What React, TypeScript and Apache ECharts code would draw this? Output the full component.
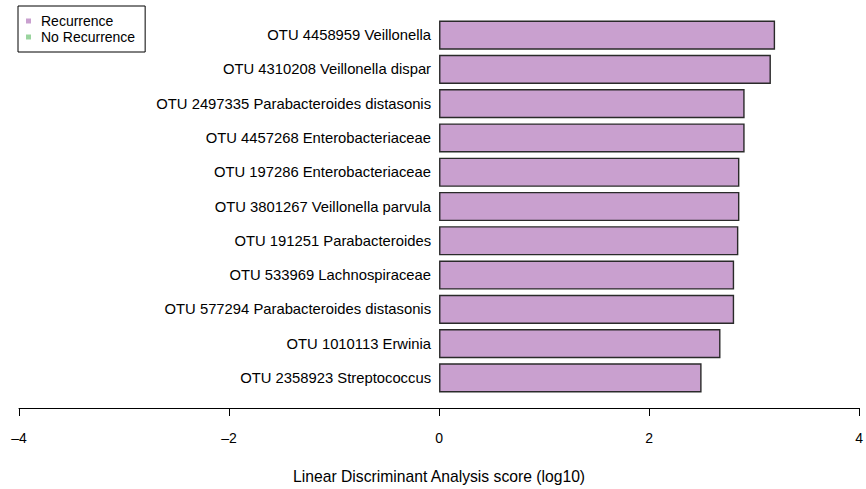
import React, { useEffect, useRef } from "react";
import * as echarts from "echarts";

const categories = [
  "OTU 4458959 Veillonella",
  "OTU 4310208 Veillonella dispar",
  "OTU 2497335 Parabacteroides distasonis",
  "OTU 4457268 Enterobacteriaceae",
  "OTU 197286 Enterobacteriaceae",
  "OTU 3801267 Veillonella parvula",
  "OTU 191251 Parabacteroides",
  "OTU 533969 Lachnospiraceae",
  "OTU 577294 Parabacteroides distasonis",
  "OTU 1010113 Erwinia",
  "OTU 2358923 Streptococcus",
];
const recurrence = [3.2, 3.16, 2.91, 2.91, 2.86, 2.86, 2.85, 2.81, 2.81, 2.68, 2.5];
const noRecurrence: number[] = [];
const seriesNames = ["Recurrence", "No Recurrence"];
const xTicks = [-4, -2, 0, 2, 4];

export default function App() {
  const ref = useRef<HTMLDivElement>(null);
  useEffect(() => {
    if (!ref.current) return;
    const chart = echarts.init(ref.current, undefined, { renderer: "svg" });
    const font = "'Liberation Sans', Arial, Helvetica, sans-serif";
    chart.setOption({
      animation: false,
      textStyle: { fontFamily: font },
      legend: {
        orient: "vertical",
        left: 18,
        top: 6,
        data: seriesNames.map((n) => ({ name: n, icon: "rect" })),
        itemWidth: 5,
        itemHeight: 5,
        itemGap: 2,
        padding: [8, 10, 8, 8],
        borderColor: "#000",
        borderWidth: 1,
        backgroundColor: "#fff",
        itemStyle: { borderWidth: 0 },
        textStyle: { fontSize: 14, color: "#000", fontFamily: font, padding: [0, 0, 0, 5] },
        z: 10,
      },
      grid: { left: 19, right: 5, top: 18, bottom: 94 },
      xAxis: {
        type: "value",
        min: xTicks[0],
        max: xTicks[xTicks.length - 1],
        interval: 2,
        offset: 13,
        splitLine: { show: false },
        axisLine: { show: true, lineStyle: { color: "#000", width: 1 } },
        axisTick: { show: true, length: 8, lineStyle: { color: "#000" } },
        axisLabel: {
          margin: 23,
          fontSize: 14,
          color: "#000",
          fontFamily: font,
          formatter: (v: number) => (v < 0 ? "\u2013" + Math.abs(v) : String(v)),
        },
        name: "Linear Discriminant Analysis score (log10)",
        nameLocation: "middle",
        nameGap: 60,
        nameTextStyle: { fontSize: 15.7, color: "#000", fontFamily: font },
      },
      yAxis: {
        type: "category",
        data: categories,
        inverse: true,
        axisLine: { show: false },
        axisTick: { show: false },
        axisLabel: { show: false },
        splitLine: { show: false },
      },
      series: [
        {
          name: seriesNames[0],
          type: "bar",
          stack: "all",
          data: recurrence,
          barCategoryGap: "15%",
          itemStyle: { color: "#C9A0CF", borderColor: "#2a2a2a", borderWidth: 1.4 },
          label: {
            show: true,
            position: "left",
            distance: 8,
            formatter: (p: any) => p.name,
            fontSize: 14.8,
            color: "#000",
            fontFamily: font,
          },
        },
        {
          name: seriesNames[1],
          type: "bar",
          stack: "all",
          data: noRecurrence,
          itemStyle: { color: "#9AD49E", borderColor: "#2a2a2a", borderWidth: 1.4 },
        },
      ],
    });
    return () => chart.dispose();
  }, []);
  return <div ref={ref} style={{ width: 866, height: 489, position: "absolute", left: 0, top: 0 }} />;
}
